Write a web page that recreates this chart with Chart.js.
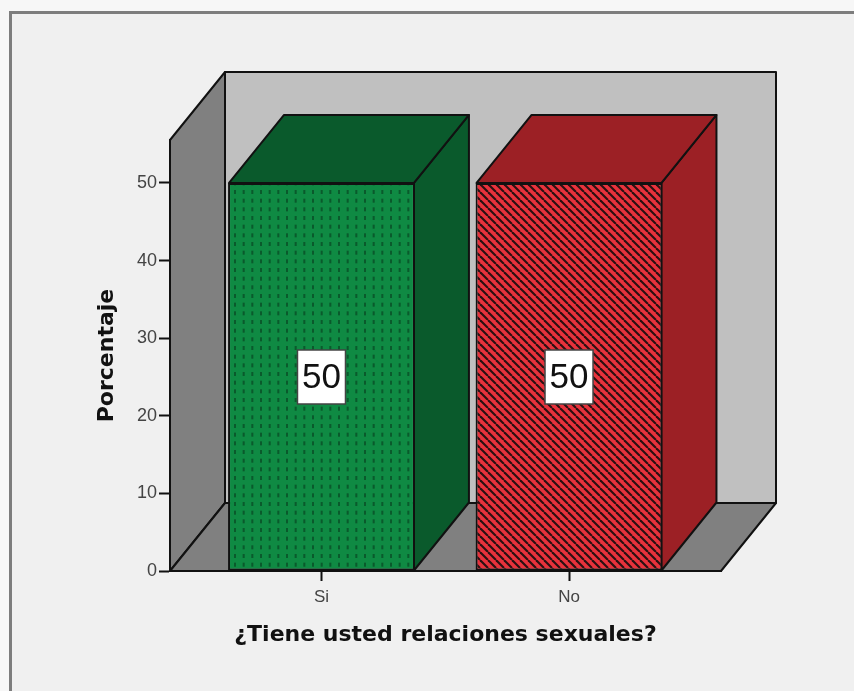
<!DOCTYPE html>
<html>
<head>
<meta charset="utf-8">
<title>Relaciones sexuales</title>
<script src="https://cdn.jsdelivr.net/npm/chart.js@4"></script>
<style>
  html, body { margin: 0; padding: 0; background: #f7f7f7; overflow: hidden; }
  #caja { position: absolute; left: 9px; top: 11px; width: 845px; height: 680px; background: #f0f0f0; border-left: 3px solid #7d7d7d; border-top: 3px solid #7d7d7d; }
  #myChart { position: absolute; left: -12px; top: -14px; }
</style>
</head>
<body>
<div id="caja"><canvas id="myChart" width="854" height="691"></canvas></div>
<script>
const categorias = ["Si", "No"];
const porcentajes = [50, 50];
const tituloX = "¿Tiene usted relaciones sexuales?";
const tituloY = "Porcentaje";

const fondoDeep = 55;
const altoDeep = 68;
const coloresLado = ["#0a5a2c", "#9c2025"];

function patronVerde() {
  const c = document.createElement("canvas");
  c.width = 26;
  c.height = 26;
  const g = c.getContext("2d");
  g.fillStyle = "#0f8a43";
  g.fillRect(0, 0, 26, 26);
  g.fillStyle = "#0a5a2c";
  [0, 8.67, 17.33].forEach((x) => {
    [8, 16.67, 25.33].forEach((y) => {
      g.fillRect(x, y, 2, 4);
      if (y + 4 > 26) g.fillRect(x, y - 26, 2, 4);
    });
  });
  return g.createPattern(c, "repeat");
}

function patronRojo() {
  const c = document.createElement("canvas");
  c.width = 8;
  c.height = 8;
  const g = c.getContext("2d");
  g.fillStyle = "#e8323c";
  g.fillRect(0, 0, 8, 8);
  g.strokeStyle = "#2a1012";
  g.lineWidth = 2.1;
  for (let i = -8; i <= 8; i += 8) {
    g.beginPath();
    g.moveTo(i, 0);
    g.lineTo(i + 8, 8);
    g.stroke();
  }
  return g.createPattern(c, "repeat");
}

function poligono(ctx, puntos, color) {
  ctx.beginPath();
  puntos.forEach((p, i) => (i ? ctx.lineTo(p[0], p[1]) : ctx.moveTo(p[0], p[1])));
  ctx.closePath();
  ctx.fillStyle = color;
  ctx.fill();
  ctx.lineWidth = 2;
  ctx.strokeStyle = "#111";
  ctx.lineJoin = "round";
  ctx.stroke();
}

// paredes y piso del grafico 3D
const paredes = {
  id: "paredes",
  beforeDraw(chart) {
    const { ctx, chartArea: a } = chart;
    const d = fondoDeep, h = altoDeep;
    ctx.save();
    poligono(ctx, [[a.left + d, a.top - h], [a.right + d, a.top - h], [a.right + d, a.bottom - h], [a.left + d, a.bottom - h]], "#c0c0c0");
    poligono(ctx, [[a.left, a.top], [a.left + d, a.top - h], [a.left + d, a.bottom - h], [a.left, a.bottom]], "#808080");
    poligono(ctx, [[a.left, a.bottom], [a.left + d, a.bottom - h], [a.right + d, a.bottom - h], [a.right, a.bottom]], "#808080");
    ctx.restore();
  },
  beforeDatasetsDraw(chart) {
    const ctx = chart.ctx;
    const d = fondoDeep, h = altoDeep;
    ctx.save();
    chart.getDatasetMeta(0).data.forEach((bar, i) => {
      const izq = bar.x - bar.width / 2 + 1;
      const der = bar.x + bar.width / 2 - 1;
      poligono(ctx, [[der, bar.y], [der + d, bar.y - h], [der + d, bar.base - h], [der, bar.base]], coloresLado[i]);
      poligono(ctx, [[izq, bar.y], [izq + d, bar.y - h], [der + d, bar.y - h], [der, bar.y]], coloresLado[i]);
    });
    ctx.restore();
  },
  afterDatasetsDraw(chart) {
    const ctx = chart.ctx;
    ctx.save();
    chart.getDatasetMeta(0).data.forEach((bar, i) => {
      const cy = chart.scales.y.getPixelForValue(porcentajes[i] / 2);
      ctx.fillStyle = "#fff";
      ctx.strokeStyle = "#444";
      ctx.lineWidth = 1.5;
      ctx.fillRect(bar.x - 24, cy - 27, 48, 54);
      ctx.strokeRect(bar.x - 24, cy - 27, 48, 54);
      ctx.fillStyle = "#111";
      ctx.font = '35px "Liberation Sans"';
      ctx.textAlign = "center";
      ctx.textBaseline = "middle";
      ctx.fillText(String(porcentajes[i]), bar.x, cy + 1);
    });
    ctx.restore();
  },
};

new Chart(document.getElementById("myChart").getContext("2d"), {
  type: "bar",
  data: {
    datasets: [
      {
        label: tituloY,
        data: porcentajes.map((v, i) => ({ x: i + 1, y: v })),
        backgroundColor: [patronVerde(), patronRojo()],
        borderColor: "#111",
        borderWidth: 2,
        borderSkipped: false,
        barPercentage: 0.755,
        categoryPercentage: 1,
      },
    ],
  },
  plugins: [paredes],
  options: {
    responsive: false,
    animation: false,
    layout: { padding: { left: 0, right: 133, top: 140, bottom: 0 } },
    plugins: { legend: { display: false }, tooltip: { enabled: false } },
    scales: {
      x: {
        type: "linear",
        offset: false,
        min: 0.388,
        max: 2.614,
        afterFit(scale) { scale.height = 120; },
        border: { color: "#111", width: 2 },
        grid: { offset: false, drawOnChartArea: false, color: "#111", tickLength: 10, tickWidth: 2 },
        ticks: {
          stepSize: 1,
          includeBounds: false,
          maxRotation: 0,
          color: "#444",
          padding: 6,
          font: { family: "Liberation Sans", size: 17 },
          callback: (v) => categorias[v - 1],
        },
        title: { display: true, text: tituloX, color: "#111", padding: { top: 14, bottom: 43 }, font: { family: "DejaVu Sans", size: 22, weight: "bold" } },
      },
      y: {
        min: 0,
        max: 55.54,
        afterFit(scale) { scale.width = 170; },
        border: { color: "#111", width: 2 },
        grid: { drawOnChartArea: false, color: "#111", tickLength: 11, tickWidth: 2 },
        ticks: {
          stepSize: 10,
          includeBounds: false,
          color: "#444",
          padding: 2,
          font: { family: "Liberation Sans", size: 18 },
        },
        title: { display: true, text: tituloY, color: "#111", padding: { top: 94, bottom: 0 }, font: { family: "DejaVu Sans", size: 22, weight: "bold" } },
      },
    },
  },
});
</script>
</body>
</html>
